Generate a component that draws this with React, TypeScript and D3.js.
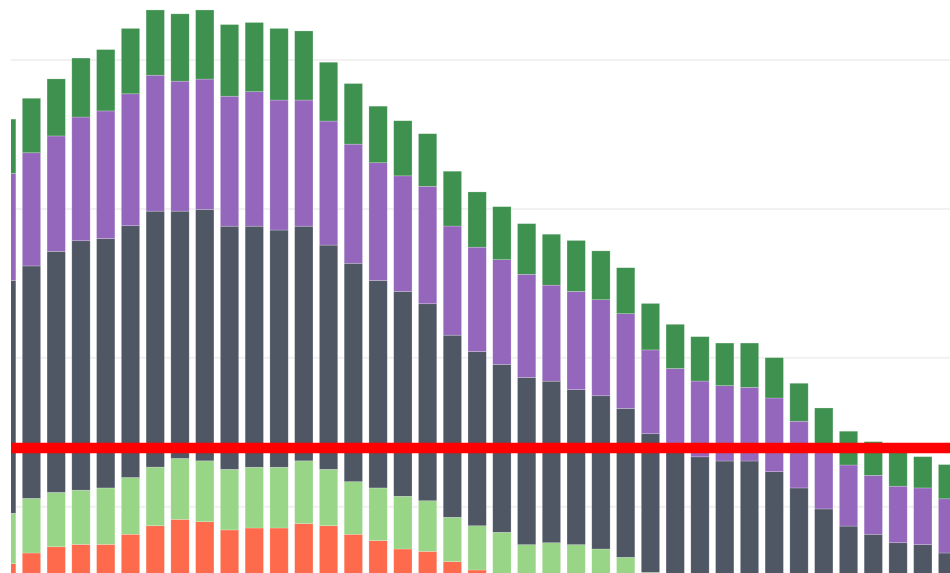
import { useEffect, useRef } from "react";
import * as d3 from "d3";

// categories (x labels are cropped out of the reference)
const periods = [
  "P01", "P02", "P03", "P04", "P05", "P06", "P07", "P08", "P09", "P10",
  "P11", "P12", "P13", "P14", "P15", "P16", "P17", "P18", "P19", "P20",
  "P21", "P22", "P23", "P24", "P25", "P26", "P27", "P28", "P29", "P30",
  "P31", "P32", "P33", "P34", "P35", "P36", "P37", "P38", "P39"
];

// stacked series, bottom to top
const seriesA = [
  61.7, 68.9, 73.1, 74.7, 74.7, 81.5, 87.2, 91.5, 89.9, 84.4,
  85.7, 85.7, 88.7, 87.2, 81.5, 77.2, 71.6, 70.0, 63.1, 57.5,
  52, 48, 47, 45, 43, 40, 35, 33, 32, 31,
  30, 29, 27, 26, 25, 24, 23, 22, 21
];
const seriesB = [
  33.9, 36.7, 36.5, 36.4, 37.9, 38.1, 39.4, 40.9, 40.9, 40.7,
  40.8, 40.8, 42.1, 37.9, 35.3, 35.4, 35.4, 34.0, 29.8, 29.7,
  30.8, 26.5, 28.8, 29.5, 28.6, 26.0, 20.9, 19, 18, 18,
  18, 17, 17, 16, 15, 14, 14, 14, 14
];
const seriesC = [
  156.3, 156.1, 161.9, 167.5, 167.5, 169.1, 171.9, 166.1, 168.9, 163.3,
  161.9, 159.3, 157.6, 150.6, 146.7, 139.3, 137.6, 132.3, 122.3, 117.0,
  112.8, 112.3, 108.5, 104.1, 102.9, 100.0, 93.1, 87.4, 83.5, 81.7,
  82.7, 77.5, 68.6, 56.5, 47.0, 43.5, 38.8, 38.5, 33.9
];
const seriesD = [
  71.9, 76.0, 77.5, 83.1, 85.7, 88.6, 91.3, 87.3, 87.5, 87.3,
  90.3, 87.3, 84.7, 83.3, 80.0, 79.1, 77.6, 78.9, 73.3, 70.1,
  70.3, 69.3, 64.5, 66.0, 64.5, 63.6, 56.3, 53.4, 50.9, 50.6,
  49.5, 49.5, 44.8, 41.6, 41.0, 39.6, 38.0, 38.1, 36.4
];
const seriesE = [
  36.5, 36.6, 38.3, 39.6, 41.2, 43.9, 43.8, 45.2, 46.4, 48.1,
  46.5, 48.1, 46.4, 39.5, 40.7, 38.0, 37.0, 35.3, 36.8, 37.1,
  35.6, 34.0, 34.2, 34.2, 32.8, 30.9, 31.2, 29.7, 29.8, 28.6,
  29.7, 27.1, 25.5, 26.2, 22.7, 22.6, 25.6, 21.0, 23.0
];

const gridTicks = [100, 200, 300, 400];
const threshold = 139.4;

const keys = ["a", "b", "c", "d", "e"];
const colors = ["#fe6a4c", "#98d586", "#4f5765", "#9467bd", "#3f914f"];

export default function App() {
  const svgRef = useRef(null);

  useEffect(() => {
    const width = 950;
    const height = 573;
    const plotLeft = 11;

    const rows = periods.map((p, i) => ({
      period: p,
      a: seriesA[i],
      b: seriesB[i],
      c: seriesC[i],
      d: seriesD[i],
      e: seriesE[i]
    }));

    d3.select(svgRef.current).selectAll("*").remove();

    const svg = d3
      .select(svgRef.current)
      .attr("width", width)
      .attr("height", height)
      .style("background", "#ffffff");

    svg
      .append("defs")
      .append("clipPath")
      .attr("id", "plot-clip")
      .append("rect")
      .attr("x", plotLeft)
      .attr("y", 0)
      .attr("width", width - plotLeft)
      .attr("height", height);

    const xScale = d3
      .scaleBand()
      .domain(periods)
      .range([-5.68, 959.96])
      .paddingInner(0.26)
      .paddingOuter(0.13);

    const yScale = d3.scaleLinear().domain([0, 400]).range([655.6, 60]);

    const plot = svg.append("g").attr("clip-path", "url(#plot-clip)");

    // gridlines
    plot
      .append("g")
      .selectAll("line")
      .data(gridTicks)
      .enter()
      .append("line")
      .attr("x1", plotLeft)
      .attr("x2", width)
      .attr("y1", d => yScale(d))
      .attr("y2", d => yScale(d))
      .attr("stroke", "#f1f1f1")
      .attr("stroke-width", 2);

    const stacked = d3.stack().keys(keys)(rows);

    plot
      .append("g")
      .selectAll("g")
      .data(stacked)
      .enter()
      .append("g")
      .attr("fill", (d, i) => colors[i])
      .selectAll("rect")
      .data(d => d)
      .enter()
      .append("rect")
      .attr("x", d => xScale(d.data.period))
      .attr("y", d => yScale(d[1]))
      .attr("width", xScale.bandwidth())
      .attr("height", d => yScale(d[0]) - yScale(d[1]))
      .attr("stroke", "rgba(255,255,255,0.35)")
      .attr("stroke-width", 0.6);

    // threshold line
    plot
      .append("line")
      .attr("x1", plotLeft)
      .attr("x2", width)
      .attr("y1", yScale(threshold))
      .attr("y2", yScale(threshold))
      .attr("stroke", "#ff0000")
      .attr("stroke-width", 10.4);
  }, []);

  return (
    <svg
      ref={svgRef}
      style={{ position: "absolute", left: 0, top: 0, display: "block" }}
    ></svg>
  );
}
